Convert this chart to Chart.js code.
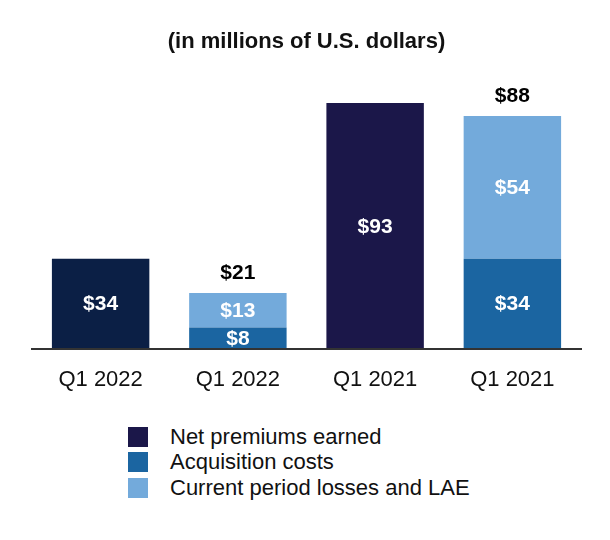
<!DOCTYPE html>
<html lang="en">
<head>
    <meta charset="UTF-8">
    <title>Net premiums vs costs</title>
    <script src="https://cdn.jsdelivr.net/npm/chart.js"></script>
    <style>
        body { margin: 0; background: #fff; font-family: "Liberation Sans", Arial, sans-serif; }
        .wrap { width: 610px; height: 540px; position: relative; }
        #legend { position: absolute; left: 128px; top: 424px; }
        .item { display: flex; align-items: center; height: 25.5px; font-size: 22px; color: #111; }
        .box { width: 20px; height: 20px; margin-right: 22px; }
    </style>
</head>
<body>
    <div class="wrap">
        <canvas id="chart" width="610" height="421"></canvas>
        <div id="legend"></div>
    </div>

    <script>
        const categories = ["Q1 2022", "Q1 2022", "Q1 2021", "Q1 2021"];
        const netPremiums = [34, null, 93, null];
        const acquisitionCosts = [null, 8, null, 34];
        const currentLosses = [null, 13, null, 54];
        const totalLabels = [null, 21, null, 88];

        const premiumColors = ["#0b1f45", null, "#1b1749", null];
        const legendColors = ["#1b1749", "#1b65a1", "#73aadb"];

        // values in the middle of segments + totals above stacked bars
        const labelPlugin = {
            id: "barLabels",
            afterDraw(chart) {
                const ctx = chart.ctx;
                ctx.save();
                ctx.font = "bold 21px 'Liberation Sans', Arial, sans-serif";
                ctx.textAlign = "center";
                ctx.textBaseline = "middle";
                ctx.fillStyle = "#fff";
                chart.data.datasets.forEach((ds, i) => {
                    chart.getDatasetMeta(i).data.forEach((bar, j) => {
                        const v = ds.data[j];
                        if (v == null) return;
                        const mid = (bar.y + bar.base) / 2;
                        ctx.fillText("$" + v, bar.x, mid + 1);
                    });
                });
                ctx.fillStyle = "#000";
                const yScale = chart.scales.y;
                const xScale = chart.scales.x;
                totalLabels.forEach((t, j) => {
                    if (t == null) return;
                    ctx.fillText("$" + t, xScale.getPixelForValue(j), yScale.getPixelForValue(t) - 20);
                });
                ctx.restore();
            }
        };

        const chart = new Chart(document.getElementById("chart"), {
            type: "bar",
            data: {
                labels: categories,
                datasets: [
                    { label: "Net premiums earned", data: netPremiums, backgroundColor: premiumColors },
                    { label: "Acquisition costs", data: acquisitionCosts, backgroundColor: legendColors[1] },
                    { label: "Current period losses and LAE", data: currentLosses, backgroundColor: legendColors[2] }
                ]
            },
            options: {
                responsive: false,
                animation: false,
                skipNull: true,
                layout: { padding: { left: 32, right: 29, bottom: 10 } },
                datasets: { bar: { barPercentage: 0.71, categoryPercentage: 1.0 } },
                plugins: {
                    legend: { display: false },
                    tooltip: { enabled: false },
                    title: {
                        display: true,
                        text: "(in millions of U.S. dollars)",
                        color: "#111",
                        font: { family: "'Liberation Sans', Arial, sans-serif", size: 22, weight: "bold" },
                        padding: { top: 29, bottom: 29 }
                    }
                },
                scales: {
                    x: {
                        stacked: true,
                        grid: { display: false, drawTicks: false },
                        border: { display: true, color: "#333", width: 2, z: 1 },
                        ticks: {
                            color: "#111",
                            padding: 18,
                            font: { family: "'Liberation Sans', Arial, sans-serif", size: 22 }
                        }
                    },
                    y: {
                        stacked: true,
                        display: false,
                        min: 0,
                        max: 100
                    }
                }
            },
            plugins: [labelPlugin]
        });

        const legend = document.getElementById("legend");
        chart.data.datasets.forEach((ds, i) => {
            const row = document.createElement("div");
            row.className = "item";
            row.innerHTML = '<span class="box" style="background:' + legendColors[i] + '"></span>' + ds.label;
            legend.appendChild(row);
        });
    </script>
</body>
</html>
